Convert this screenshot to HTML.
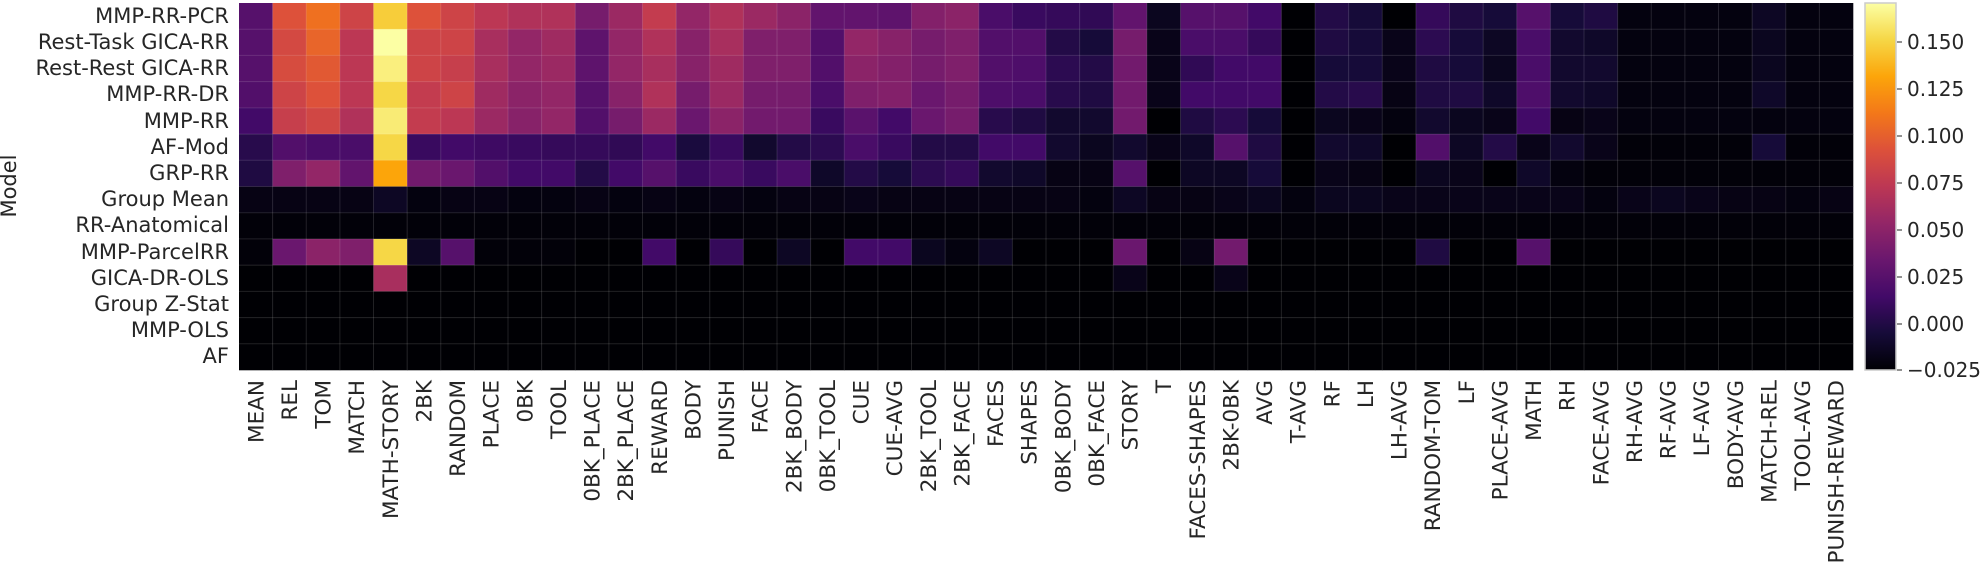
<!DOCTYPE html>
<html><head><meta charset="utf-8">
<style>
html,body{margin:0;padding:0;background:#fff;}
svg{display:block;}
text{font-family:"DejaVu Sans","Liberation Sans",sans-serif;fill:#262626;}
</style></head>
<body>
<svg id="s" width="1986" height="562" xmlns="http://www.w3.org/2000/svg">
<defs>
<linearGradient id="cb" x1="0" y1="1" x2="0" y2="0">
<stop offset="0" stop-color="#000004"/><stop offset="0.1" stop-color="#160b39"/><stop offset="0.2" stop-color="#420a68"/><stop offset="0.3" stop-color="#6a176e"/><stop offset="0.4" stop-color="#932667"/><stop offset="0.5" stop-color="#bc3754"/><stop offset="0.6" stop-color="#dd513a"/><stop offset="0.7" stop-color="#f37819"/><stop offset="0.8" stop-color="#fca50a"/><stop offset="0.9" stop-color="#f6d746"/><stop offset="1" stop-color="#fcffa4"/>
</linearGradient>
</defs>
<g id="cells"></g>
<rect x="1865" y="3" width="31" height="367" fill="url(#cb)" stroke="#ccc" stroke-width="1.5"/>
<g font-size="20">
<line x1="1897" y1="42" x2="1902" y2="42" stroke="#262626"/><text x="1907" y="49">0.150</text>
<line x1="1897" y1="89" x2="1902" y2="89" stroke="#262626"/><text x="1907" y="96">0.125</text>
<line x1="1897" y1="136" x2="1902" y2="136" stroke="#262626"/><text x="1907" y="143">0.100</text>
<line x1="1897" y1="183" x2="1902" y2="183" stroke="#262626"/><text x="1907" y="190">0.075</text>
<line x1="1897" y1="230" x2="1902" y2="230" stroke="#262626"/><text x="1907" y="237">0.050</text>
<line x1="1897" y1="277" x2="1902" y2="277" stroke="#262626"/><text x="1907" y="284">0.025</text>
<line x1="1897" y1="324" x2="1902" y2="324" stroke="#262626"/><text x="1907" y="331">0.000</text>
<line x1="1897" y1="370" x2="1902" y2="370" stroke="#262626"/><text x="1907" y="377">−0.025</text>
</g>
<g font-size="21" text-anchor="end">
<text x="229" y="23">MMP-RR-PCR</text>
<text x="229" y="49">Rest-Task GICA-RR</text>
<text x="229" y="75">Rest-Rest GICA-RR</text>
<text x="229" y="101">MMP-RR-DR</text>
<text x="229" y="128">MMP-RR</text>
<text x="229" y="154">AF-Mod</text>
<text x="229" y="180">GRP-RR</text>
<text x="229" y="206">Group Mean</text>
<text x="229" y="232">RR-Anatomical</text>
<text x="229" y="259">MMP-ParcelRR</text>
<text x="229" y="285">GICA-DR-OLS</text>
<text x="229" y="311">Group Z-Stat</text>
<text x="229" y="337">MMP-OLS</text>
<text x="229" y="363">AF</text>
</g>
<text font-size="21" text-anchor="middle" transform="translate(16,186) rotate(-90)">Model</text>
<g id="xl" font-size="21.5" text-anchor="end">
<text>MEAN</text><text>REL</text><text>TOM</text><text>MATCH</text><text>MATH-STORY</text><text>2BK</text><text>RANDOM</text><text>PLACE</text><text>0BK</text><text>TOOL</text><text>0BK_PLACE</text><text>2BK_PLACE</text><text>REWARD</text><text>BODY</text><text>PUNISH</text><text>FACE</text><text>2BK_BODY</text><text>0BK_TOOL</text><text>CUE</text><text>CUE-AVG</text><text>2BK_TOOL</text><text>2BK_FACE</text><text>FACES</text><text>SHAPES</text><text>0BK_BODY</text><text>0BK_FACE</text><text>STORY</text><text>T</text><text>FACES-SHAPES</text><text>2BK-0BK</text><text>AVG</text><text>T-AVG</text><text>RF</text><text>LH</text><text>LH-AVG</text><text>RANDOM-TOM</text><text>LF</text><text>PLACE-AVG</text><text>MATH</text><text>RH</text><text>FACE-AVG</text><text>RH-AVG</text><text>RF-AVG</text><text>LF-AVG</text><text>BODY-AVG</text><text>MATCH-REL</text><text>TOOL-AVG</text><text>PUNISH-REWARD</text>
</g>
</svg>
<script>
var X0=239,X1=1853,Y0=3,Y1=370,NC=48,NR=14,cw=(X1-X0)/NC,rh=(Y1-Y0)/NR;
var st=[[0,0,4],[22,11,57],[66,10,104],[106,23,110],[147,38,103],[188,55,84],[221,81,58],[243,120,25],[252,165,10],[246,215,70],[252,255,164]];
function col(t){t=Math.max(0,Math.min(1,t));var f=t*10,i=Math.min(9,Math.floor(f)),r=f-i,a=st[i],b=st[i+1];return 'rgb('+[0,1,2].map(function(k){return Math.round(a[k]+(b[k]-a[k])*r)}).join(',')+')';}
var z=function(n,v){var a=[];for(var i=0;i<n;i++)a.push(v);return a;};
var D=[
[.25,.6,.68,.55,.88,.6,.55,.5,.47,.47,.33,.42,.52,.4,.47,.42,.38,.28,.28,.27,.36,.38,.22,.18,.17,.16,.28,.05,.25,.25,.2,0,.13,.1,0,.17,.12,.1,.25,.1,.12,.02,.02,.02,.02,.06,.02,.02],
[.25,.57,.65,.5,1,.55,.55,.45,.4,.43,.27,.4,.47,.37,.45,.35,.35,.24,.4,.37,.33,.35,.24,.24,.13,.1,.33,.04,.22,.22,.17,0,.12,.1,.04,.15,.1,.06,.22,.08,.07,.02,.02,.02,.02,.05,.02,.02],
[.25,.58,.62,.5,.96,.55,.53,.45,.4,.42,.27,.4,.45,.37,.43,.35,.35,.24,.38,.36,.33,.35,.24,.23,.15,.13,.32,.04,.16,.2,.2,0,.1,.1,.04,.12,.1,.05,.22,.08,.08,.02,.02,.02,.02,.05,.02,.02],
[.24,.55,.6,.5,.9,.52,.55,.43,.38,.4,.25,.37,.47,.33,.42,.33,.33,.22,.35,.36,.3,.33,.23,.22,.14,.12,.32,.04,.2,.2,.2,0,.13,.14,.03,.12,.12,.07,.23,.08,.07,.02,.02,.02,.02,.07,.02,.02],
[.2,.53,.56,.47,.95,.52,.5,.42,.37,.4,.24,.33,.42,.3,.38,.32,.32,.18,.26,.2,.3,.33,.14,.12,.08,.08,.32,0,.12,.15,.1,0,.05,.04,.02,.08,.05,.04,.2,.03,.04,.02,.02,.02,.02,.02,.02,.02],
[.14,.24,.22,.22,.9,.18,.2,.19,.18,.17,.17,.16,.2,.11,.18,.08,.13,.15,.22,.18,.13,.13,.2,.2,.08,.05,.08,.04,.07,.25,.12,0,.08,.07,0,.24,.06,.13,.04,.08,.04,.01,.01,.01,.01,.1,.01,.01],
[.12,.35,.4,.28,.8,.32,.3,.24,.2,.2,.13,.2,.25,.18,.22,.18,.22,.07,.13,.1,.15,.17,.08,.07,.03,.03,.25,0,.06,.06,.1,0,.04,.03,0,.05,.04,0,.07,.02,.01,.01,.01,.01,.01,.01,.01,.01],
[.03,.03,.03,.03,.06,.02,.03,.03,.02,.02,.03,.02,.03,.02,.03,.02,.03,.03,.04,.03,.03,.03,.03,.03,.03,.02,.06,.03,.03,.04,.05,.02,.05,.05,.04,.04,.04,.04,.04,.04,.02,.04,.05,.04,.03,.03,.02,.03],
z(48,.01),
[.01,.3,.38,.35,.9,.06,.25,.01,.01,.01,0,0,.2,0,.17,0,.06,0,.2,.2,.05,.02,.06,0,0,0,.3,0,.03,.32,0,0,0,0,0,.12,0,0,.25,0,0,0,0,0,0,0,0,0],
[0,0,0,0,.45,0,0,0,0,0,0,0,0,0,0,0,0,0,0,0,0,0,0,0,0,0,.04,0,0,.04,0,0,0,0,0,0,0,0,0,0,0,0,0,0,0,0,0,0],
z(48,0),z(48,0),z(48,0)];
var h='';
for(var r=0;r<NR;r++)for(var c=0;c<NC;c++){h+='<rect x="'+(X0+c*cw).toFixed(2)+'" y="'+(Y0+r*rh).toFixed(2)+'" width="'+(cw+0.3).toFixed(2)+'" height="'+(rh+0.3).toFixed(2)+'" fill="'+col(D[r][c])+'"/>';}
for(var c=1;c<NC;c++){var x=(X0+c*cw).toFixed(2);h+='<line x1="'+x+'" y1="'+Y0+'" x2="'+x+'" y2="'+Y1+'" stroke="rgba(255,255,255,0.13)" stroke-width="1"/>';}
for(var r=1;r<NR;r++){var y=(Y0+r*rh).toFixed(2);h+='<line x1="'+X0+'" y1="'+y+'" x2="'+X1+'" y2="'+y+'" stroke="rgba(255,255,255,0.13)" stroke-width="1"/>';}
document.getElementById('cells').innerHTML=h;
var t=document.getElementById('xl').getElementsByTagName('text');
for(var i=0;i<t.length;i++){var x=X0+(i+0.5)*cw+7.5;t[i].setAttribute('transform','translate('+x.toFixed(2)+',380) rotate(-90)');}
</script>
</body></html>
